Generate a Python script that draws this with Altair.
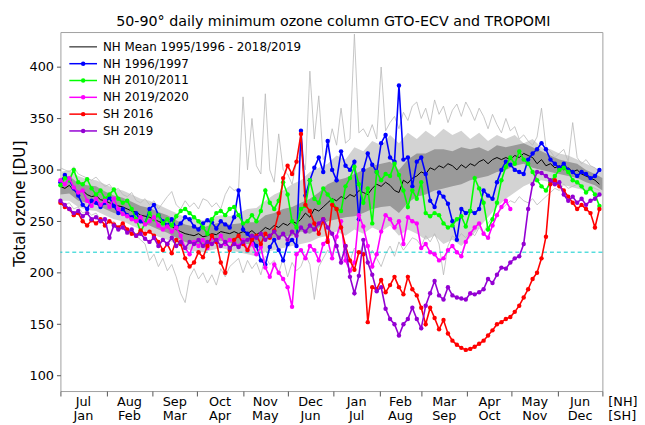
import altair as alt
import pandas as pd

# ---------------- data (day 0 = 1 July [NH] / 1 January [SH]) ----------------
days = list(range(0, 364, 3))
band_days = list(range(0, 361, 6)) + [365]

nh_1996 = [288, 295, 290, 282, 275, 266, 262, 270, 268, 264,
           268, 273, 265, 258, 262, 256, 254, 258, 250, 248,
           262, 266, 256, 250, 246, 252, 244, 248, 254, 252,
           245, 242, 248, 251, 249, 243, 250, 247, 244, 254,
           280, 242, 238, 232, 226, 212, 208, 225, 232, 222,
           212, 228, 232, 226, 338, 275, 290, 302, 312, 298,
           328, 300, 290, 318, 304, 300, 308, 252, 300, 316,
           305, 298, 326, 334, 312, 308, 382, 310, 312, 284,
           308, 312, 296, 270, 264, 278, 274, 267, 250, 232,
           262, 258, 260, 258, 262, 280, 275, 272, 288, 300,
           308, 305, 300, 298, 296, 310, 316, 320, 326, 320,
           310, 306, 302, 306, 300, 298, 294, 298, 296, 292,
           294, 300]

nh_2010 = [285, 292, 290, 300, 288, 286, 291, 282, 276, 280,
           272, 276, 281, 272, 268, 270, 262, 252, 240, 248,
           258, 252, 256, 248, 252, 246, 255, 260, 262, 258,
           254, 250, 244, 238, 252, 258, 260, 256, 262, 264,
           256, 248, 250, 256, 250, 260, 280, 268, 262, 270,
           288, 276, 250, 244, 262, 265, 290, 272, 268, 282,
           276, 270, 262, 260, 284, 292, 303, 286, 268, 282,
           248, 298, 290, 296, 294, 306, 295, 280, 264, 280,
           272, 288, 258, 255, 258, 256, 248, 244, 246, 252,
           255, 245, 260, 292, 282, 268, 242, 252, 268, 290,
           303, 312, 306, 318, 310, 306, 298, 290, 284, 280,
           288, 294, 300, 302, 298, 290, 288, 284, 278, 282,
           276, 265]

nh_2019 = [290, 286, 292, 283, 278, 280, 270, 265, 272, 266,
           270, 264, 272, 262, 257, 255, 252, 250, 254, 247,
           250, 254, 246, 242, 245, 240, 244, 236, 224, 218,
           230, 226, 232, 224, 234, 230, 236, 228, 232, 230,
           226, 232, 222, 228, 218, 225, 205, 196, 208, 200,
           194, 186, 167, 218, 222, 214, 226, 222, 212, 228,
           232, 214, 235, 250, 212, 202, 210, 256, 245, 226,
           206, 218, 240, 256, 252, 244, 250, 228, 254, 250,
           248, 224, 228, 220, 218, 212, 214, 222, 226, 220,
           216, 230, 238, 244, 248, 238, 234, 246, 256, 264,
           270, 262] + [None] * 20

sh_2016 = [268, 264, 262, 256, 258, 250, 246, 251, 248, 252,
           246, 250, 247, 244, 248, 242, 238, 236, 241, 238,
           240, 236, 230, 222, 228, 219, 232, 228, 214, 206,
           210, 220, 215, 226, 236, 230, 210, 200, 222, 232,
           236, 228, 222, 232, 236, 228, 238, 234, 241, 258,
           292, 304, 296, 308, 335, 266, 260, 248, 238, 252,
           230, 266, 262, 244, 226, 212, 203, 220, 218, 152,
           186, 184, 193, 181, 188, 196, 186, 179, 196, 184,
           178, 166, 150, 166, 156, 145, 154, 141, 134, 130,
           127, 125, 126, 128, 131, 134, 139, 144, 150, 152,
           155, 157, 162, 168, 176, 184, 194, 200, 214, 235,
           286, 290, 284, 280, 274, 268, 262, 266, 262, 258,
           244, 262]

sh_2019 = [270, 266, 262, 258, 260, 255, 258, 252, 254, 250,
           252, 234, 246, 242, 244, 239, 242, 236, 238, 233,
           230, 234, 226, 232, 228, 234, 226, 230, 224, 230,
           228, 232, 226, 230, 228, 232, 226, 230, 224, 228,
           225, 230, 232, 236, 234, 238, 232, 236, 240, 234,
           238, 232, 240, 236, 244, 240, 246, 242, 248, 252,
           244, 238, 226, 210, 226, 196, 180, 197, 232, 210,
           198, 182, 186, 165, 155, 150, 139, 150, 155, 166,
           155, 146, 168, 180, 192, 178, 174, 186, 178, 176,
           175, 174, 180, 179, 181, 184, 194, 190, 198, 205,
           204, 210, 214, 216, 228, 262, 286, 298, 297, 294,
           290, 286, 288, 276, 270, 274, 268, 272, 266, 270,
           272, 276]

nh_mean = [284, 282, 285, 280, 278, 280, 276, 274, 275, 271,
           270, 268, 266, 265, 264, 262, 260, 259, 256, 255,
           254, 252, 250, 248, 247, 245, 242, 240, 238, 237,
           236, 238, 235, 236, 238, 237, 240, 239, 238, 240,
           238, 240, 238, 241, 237, 240, 244, 242, 246, 244,
           248, 246, 250, 248, 252, 258, 254, 262, 260, 264,
           268, 272, 270, 274, 272, 276, 274, 280, 278, 276,
           282, 286, 284, 288, 285, 280, 278, 290, 287, 292,
           294, 298, 296, 302, 300, 304, 302, 306, 304, 300,
           305, 302, 306, 304, 308, 310, 306, 310, 312, 310,
           312, 310, 314, 312, 316, 314, 312, 306, 310, 304,
           306, 302, 304, 300, 302, 298, 300, 296, 294, 292,
           290, 286]

nh_max = [302, 300, 298, 303, 296, 294, 292, 290, 293, 288,
          284, 286, 280, 282, 276, 274, 278, 270, 268, 272,
          266, 270, 262, 268, 274, 279, 266, 262, 270, 264,
          268, 262, 272, 270, 264, 268, 262, 276, 284, 280,
          282, 371, 300, 350, 304, 296, 374, 300, 288, 335,
          300, 296, 286, 308, 316, 300, 396, 330, 372, 310,
          318, 340, 324, 360, 326, 330, 432, 336, 340, 332,
          344, 330, 400, 338, 346, 352, 340, 356, 348, 362,
          366, 350, 360, 344, 368, 354, 362, 346, 358, 364,
          352, 366, 358, 348, 360, 352, 340, 354, 344, 336,
          350, 338, 342, 330, 334, 328, 324, 332, 360, 322,
          318, 312, 316, 320, 308, 346, 312, 306, 310, 304,
          302, 298]

nh_min = [270, 266, 268, 262, 264, 258, 260, 256, 258, 252,
          254, 248, 250, 244, 246, 240, 238, 236, 232, 228,
          212, 218, 206, 214, 202, 208, 196, 180, 171, 196,
          204, 194, 200, 190, 198, 188, 204, 196, 206, 210,
          214, 200, 212, 204, 210, 198, 216, 208, 212, 200,
          214, 196, 210, 202, 206, 218, 208, 174, 206, 214,
          222, 218, 226, 214, 220, 212, 224, 218, 228, 210,
          222, 214, 206, 218, 226, 216, 230, 222, 228, 234,
          232, 226, 236, 230, 238, 228, 198, 226, 236, 232,
          238, 234, 240, 236, 244, 238, 248, 254, 258, 262,
          266, 270, 268, 274, 270, 268, 272, 266, 270, 274,
          278, 282, 280, 286, 282, 284, 286, 282, 280, 284,
          282, 280]

dark_hi = [292, 294, 287, 285, 284, 279, 275, 273, 269, 265,
           263, 259, 256, 251, 247, 245, 244, 247, 249, 247,
           248, 249, 249, 256, 258, 262, 264, 268, 272, 278,
           286, 290, 292, 296, 300, 304, 306, 308, 300, 310,
           316, 316, 320, 320, 318, 322, 320, 322, 318, 324,
           322, 324, 326, 322, 318, 314, 310, 308, 306, 300,
           296, 292]
dark_lo = [276, 277, 270, 268, 266, 262, 258, 256, 252, 248,
           246, 242, 239, 234, 230, 228, 227, 229, 231, 229,
           228, 228, 226, 232, 234, 235, 236, 240, 238, 244,
           250, 252, 254, 255, 258, 262, 264, 265, 258, 268,
           274, 276, 280, 282, 284, 286, 290, 292, 294, 298,
           300, 304, 306, 302, 300, 298, 296, 294, 292, 288,
           285, 280]
light_hi = [298, 300, 294, 291, 290, 286, 282, 280, 276, 272,
            270, 266, 262, 258, 254, 252, 251, 254, 256, 255,
            258, 262, 263, 270, 276, 280, 286, 290, 298, 302,
            306, 314, 310, 322, 318, 328, 324, 334, 326, 336,
            330, 338, 332, 340, 334, 338, 330, 336, 328, 334,
            330, 334, 326, 330, 322, 320, 316, 314, 310, 306,
            302, 298]
light_lo = [270, 270, 264, 261, 260, 256, 252, 250, 246, 242,
            239, 235, 232, 228, 223, 221, 220, 222, 224, 222,
            220, 218, 216, 220, 222, 224, 226, 228, 230, 234,
            236, 240, 236, 242, 238, 244, 240, 246, 236, 242,
            238, 232, 236, 228, 232, 226, 234, 244, 254, 264,
            272, 278, 284, 288, 290, 288, 286, 284, 282, 280,
            278, 274]

threshold = [220]

month_starts = [0, 31, 62, 92, 123, 153, 184, 215, 243, 274, 304, 335, 365]
nh_months = ["Jul", "Aug", "Sep", "Oct", "Nov", "Dec", "Jan", "Feb", "Mar", "Apr", "May", "Jun"]
sh_months = ["Jan", "Feb", "Mar", "Apr", "May", "Jun", "Jul", "Aug", "Sep", "Oct", "Nov", "Dec"]
y_ticks = [100, 150, 200, 250, 300, 350, 400]

series_names = ["NH 1996/1997", "NH 2010/2011", "NH 2019/2020", "SH 2016", "SH 2019"]
series_vals = [nh_1996, nh_2010, nh_2019, sh_2016, sh_2019]
series_colors = ["#0000ff", "#00ff00", "#ff00ff", "#ff0000", "#9400d3"]
mean_label = "NH Mean 1995/1996 - 2018/2019"
title_text = "50-90° daily minimum ozone column GTO-ECV and TROPOMI"

# ---------------- chart ----------------
W, H = 548, 363
FONT = "DejaVu Sans"
xs = alt.Scale(domain=[0, 365], nice=False, zero=False)
ys = alt.Scale(domain=[85, 434], nice=False, zero=False)
xaxis = alt.Axis(values=month_starts, labels=False, ticks=True, tickSize=5, grid=False,
                 title=None, domain=False, tickColor="#555555")
yaxis = alt.Axis(values=y_ticks, grid=False, title="Total ozone [DU]", titleFontSize=15.5,
                 titleFontWeight="normal", titleColor="black", labelColor="black",
                 labelFontSize=13, tickSize=4, tickColor="#555555", domain=False,
                 labelPadding=3, titleX=-41, titleY=173, titleBaseline="middle",
                 titleAlign="center", titleAngle=-90)

X = lambda f: alt.X(f, type="quantitative", scale=xs, axis=xaxis)
Y = lambda f: alt.Y(f, type="quantitative", scale=ys, axis=yaxis)

band_df = pd.DataFrame({"day": band_days, "dlo": dark_lo, "dhi": dark_hi,
                        "llo": light_lo, "lhi": light_hi})
env_df = pd.DataFrame({"day": days, "mx": nh_max, "mn": nh_min, "mean": nh_mean})

layers = []
layers.append(alt.Chart(band_df).mark_area(color="#d3d3d3").encode(x=X("day"), y=Y("llo"), y2="lhi"))
layers.append(alt.Chart(band_df).mark_area(color="#9a9a9a").encode(x=X("day"), y=Y("dlo"), y2="dhi"))
layers.append(alt.Chart(env_df).mark_line(color="#b8b8b8", strokeWidth=0.8).encode(x=X("day"), y=Y("mx")))
layers.append(alt.Chart(env_df).mark_line(color="#b8b8b8", strokeWidth=0.8).encode(x=X("day"), y=Y("mn")))
layers.append(alt.Chart(env_df).mark_line(color="black", strokeWidth=1).encode(x=X("day"), y=Y("mean")))
layers.append(alt.Chart(pd.DataFrame({"t": threshold})).mark_rule(
    color="#00cccc", strokeWidth=1, strokeDash=[4, 3]).encode(y=Y("t")))

for name, vals, col in zip(series_names, series_vals, series_colors):
    df = pd.DataFrame({"day": days, "v": vals}).dropna()
    layers.append(alt.Chart(df).mark_line(color=col, strokeWidth=1.6).encode(x=X("day"), y=Y("v")))
    layers.append(alt.Chart(df).mark_circle(color=col, size=20, opacity=1).encode(x=X("day"), y=Y("v")))

# month labels centred between month boundaries
mid = [(a + b) / 2 for a, b in zip(month_starts[:-1], month_starts[1:])]
lab_df = pd.DataFrame({"day": mid, "lab": [f"{n}\n{s}" for n, s in zip(nh_months, sh_months)]})
layers.append(alt.Chart(lab_df).mark_text(baseline="top", fontSize=13, lineBreak="\n",
                                          lineHeight=14, font=FONT, color="black").encode(
    x=X("day"), y=alt.value(H + 5), text="lab:N"))
layers.append(alt.Chart(pd.DataFrame({"lab": ["[NH]\n[SH]"]})).mark_text(
    baseline="top", align="left", fontSize=13, lineBreak="\n", lineHeight=14, font=FONT,
    color="black").encode(x=alt.value(W + 6), y=alt.value(H + 5), text="lab:N"))

# title as text
layers.append(alt.Chart(pd.DataFrame({"lab": [title_text]})).mark_text(
    align="center", baseline="alphabetic", fontSize=14.4, font=FONT, color="black").encode(
    x=alt.value(W / 2 + 2), y=alt.value(-6), text="lab:N"))

# legend (inside plot, upper left)
leg_labels = [mean_label] + series_names
leg_colors = ["black"] + series_colors
for k, (lab, col) in enumerate(zip(leg_labels, leg_colors)):
    yk = 15 + 17 * k
    one = pd.DataFrame({"lab": [lab]})
    layers.append(alt.Chart(one).mark_rule(color=col, strokeWidth=1.5 if k else 1).encode(
        x=alt.value(9), x2=alt.value(37), y=alt.value(yk)))
    if k:
        layers.append(alt.Chart(one).mark_circle(color=col, size=20, opacity=1).encode(
            x=alt.value(23), y=alt.value(yk)))
    layers.append(alt.Chart(one).mark_text(align="left", baseline="middle", fontSize=12,
                                           font=FONT, color="black").encode(
        x=alt.value(43), y=alt.value(yk), text="lab:N"))

chart = alt.layer(*layers).properties(
    width=W, height=H,
    padding={"left": 53, "top": 22, "right": 35, "bottom": 31},
    autosize="none",
).configure(font=FONT).configure_view(stroke="#a0a0a0", strokeWidth=1).configure_axis(
    labelFont=FONT, titleFont=FONT)

chart.save("out.html", embed_options={"renderer": "svg", "actions": False})
